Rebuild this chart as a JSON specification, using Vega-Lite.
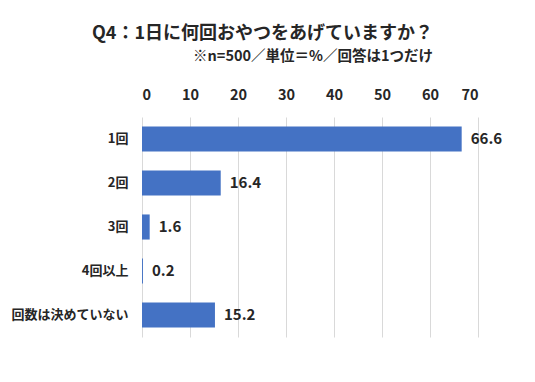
{
  "$schema": "https://vega.github.io/schema/vega-lite/v6.json",
  "autosize": "none",
  "width": 336,
  "height": 220,
  "padding": {"left": 142, "top": 117, "right": 57, "bottom": 45},
  "background": "white",
  "config": {
    "font": "Noto Sans CJK JP",
    "view": {"stroke": null}
  },
  "title": {
    "text": "Q4：1日に何回おやつをあげていますか？",
    "subtitle": "※n=500／単位＝%／回答は1つだけ",
    "anchor": "end",
    "dx": -69,
    "offset": 24,
    "fontSize": 18,
    "fontWeight": "bold",
    "color": "#262626",
    "subtitleFontSize": 14.5,
    "subtitleFontWeight": "bold",
    "subtitleColor": "#262626",
    "subtitlePadding": 7,
    "font": "Noto Sans CJK JP",
    "subtitleFont": "Noto Sans CJK JP"
  },
  "data": {
    "values": [
      {"category": "1回", "value": 66.6},
      {"category": "2回", "value": 16.4},
      {"category": "3回", "value": 1.6},
      {"category": "4回以上", "value": 0.2},
      {"category": "回数は決めていない", "value": 15.2}
    ]
  },
  "encoding": {
    "y": {
      "field": "category",
      "type": "nominal",
      "sort": null,
      "scale": {"paddingInner": 0.43, "paddingOuter": 0.215},
      "axis": {
        "title": null,
        "domain": false,
        "ticks": false,
        "tickSize": 0,
        "labelPadding": 14,
        "labelFontSize": 13,
        "labelFontWeight": "bold",
        "labelColor": "#262626",
        "labelFont": "Noto Sans CJK JP"
      }
    },
    "x": {
      "field": "value",
      "type": "quantitative",
      "scale": {"domain": [0, 70], "nice": false},
      "axis": {
        "orient": "top",
        "title": null,
        "values": [0, 10, 20, 30, 40, 50, 60, 70],
        "domain": false,
        "ticks": false,
        "tickSize": 0,
        "labelPadding": 15,
        "labelFontSize": 14.5,
        "labelFontWeight": "bold",
        "labelColor": "#262626",
        "labelFont": "Noto Sans CJK JP",
        "grid": true,
        "gridColor": "#d9d9d9",
        "gridWidth": 1
      }
    }
  },
  "layer": [
    {"mark": {"type": "bar", "color": "#4472C4"}},
    {
      "mark": {
        "type": "text",
        "align": "left",
        "baseline": "middle",
        "dx": 9,
        "fontSize": 15,
        "fontWeight": "bold",
        "color": "#262626",
        "font": "Noto Sans CJK JP"
      },
      "encoding": {"text": {"field": "value", "type": "quantitative", "format": ".1f"}}
    }
  ]
}
